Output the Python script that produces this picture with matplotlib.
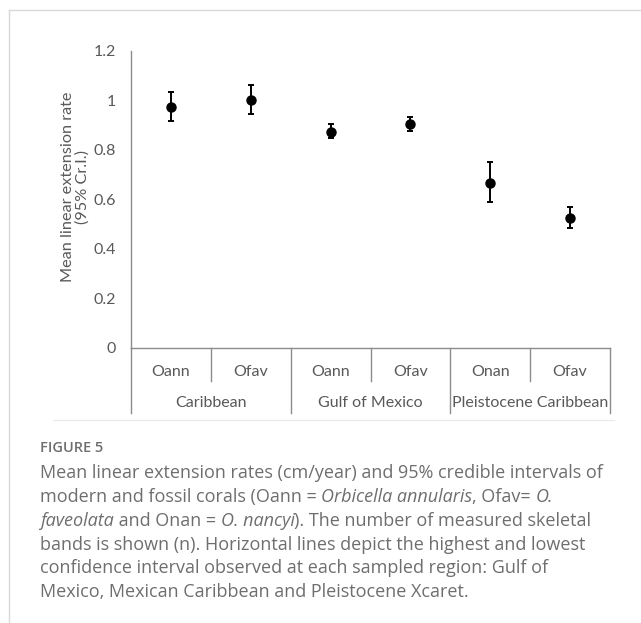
import matplotlib
matplotlib.use("Agg")
import matplotlib.pyplot as plt
from matplotlib.lines import Line2D
import numpy as np

species = ["Oann", "Ofav", "Oann", "Ofav", "Onan", "Ofav"]
regions = ["Caribbean", "Gulf of Mexico", "Pleistocene Caribbean"]
means = [0.972, 1.002, 0.873, 0.903, 0.665, 0.523]
upper = [1.034, 1.061, 0.904, 0.931, 0.748, 0.568]
lower = [0.915, 0.945, 0.846, 0.876, 0.589, 0.482]
yticks = [0, 0.2, 0.4, 0.6, 0.8, 1.0, 1.2]
ytick_labels = ["0", "0.2", "0.4", "0.6", "0.8", "1", "1.2"]

W, H = 641, 623
fig = plt.figure(figsize=(W / 100, H / 100), dpi=100)

def fx(px):
    return px / W

def fy(py):
    return 1 - py / H

ax = fig.add_axes([fx(131), fy(347.5), fx(610) - fx(131), fy(50.7) - fy(347.5)])
x = np.arange(len(means))
m = np.array(means)
yerr = np.array([m - np.array(lower), np.array(upper) - m])
ax.errorbar(x, m, yerr=yerr, fmt="o", color="black", ms=6.5, elinewidth=1.4,
            capsize=2.5, capthick=1.4)
ax.set_xlim(-0.5, len(means) - 0.5)
ax.set_ylim(0, 1.2)
ax.set_yticks(yticks)
ax.set_yticklabels(ytick_labels)
ax.set_xticks([])
axis_color = "#8c8c8c"
text_color = "#595959"
for s in ["top", "right"]:
    ax.spines[s].set_visible(False)
for s in ["left", "bottom"]:
    ax.spines[s].set_color(axis_color)
    ax.spines[s].set_linewidth(1.0)
ax.tick_params(axis="y", length=0, pad=11, labelsize=11.5, labelcolor=text_color)
for lab in ax.get_yticklabels():
    lab.set_family("Lato")
ax.set_ylabel("Mean linear extension rate\n(95% Cr.I.)", fontsize=11.7, color=text_color,
              family="Lato", labelpad=4, linespacing=1.0)
ax.yaxis.set_label_coords(-0.086, 0.54)

# Category axis (two-level)
tr = ax.get_xaxis_transform()
ax_h_px = 347.5 - 50.7
def ay(py):
    return (347.5 - py) / ax_h_px

for i, sp in enumerate(species):
    ax.text(i, ay(372), sp, transform=tr, ha="center", va="center", fontsize=11.5,
            color=text_color, family="Lato")
for i in range(len(species) + 1):
    xb = i - 0.5
    end = 413 if i % 2 == 0 else 381
    ax.add_line(Line2D([xb, xb], [0, ay(end)], transform=tr, color=axis_color, lw=1.0, clip_on=False))
for g, r in enumerate(regions):
    ax.text(2 * g + 0.5, ay(403), r, transform=tr, ha="center", va="center", fontsize=11.5,
            color=text_color, family="Lato")

# frame lines
border = "#d9d9d9"
fig.add_artist(Line2D([fx(9), 1], [fy(9.5), fy(9.5)], transform=fig.transFigure, color=border, lw=1.0))
fig.add_artist(Line2D([fx(9), fx(9)], [fy(9.5), 0], transform=fig.transFigure, color=border, lw=1.0))
fig.add_artist(Line2D([fx(53), fx(614)], [fy(419.5), fy(419.5)], transform=fig.transFigure,
                      color="#ebebeb", lw=1.0))

cap_color = "#6e6e6e"
fig.text(fx(40), fy(448), "FIGURE 5", fontsize=10.5, color=cap_color, family="Open Sans",
         weight="semibold", va="center", ha="left")

lines = [
    [("Mean linear extension rates (cm/year) and 95% credible intervals of", "normal")],
    [("modern and fossil corals (Oann = ", "normal"), ("Orbicella annularis", "italic"),
     (", Ofav= ", "normal"), ("O.", "italic")],
    [("faveolata", "italic"), (" and Onan = ", "normal"), ("O. nancyi", "italic"),
     ("). The number of measured skeletal", "normal")],
    [("bands is shown (n). Horizontal lines depict the highest and lowest", "normal")],
    [("confidence interval observed at each sampled region: Gulf of", "normal")],
    [("Mexico, Mexican Caribbean and Pleistocene Xcaret.", "normal")],
]
baselines = [478, 502, 526, 550, 573, 597]
renderer = fig.canvas.get_renderer()
for parts, yb in zip(lines, baselines):
    xpos = 40.0
    for txt, style in parts:
        t = fig.text(fx(xpos), fy(yb), txt, fontsize=13.0, color=cap_color, family="Open Sans",
                     style=style, va="baseline", ha="left")
        bb = t.get_window_extent(renderer=renderer)
        xpos += bb.width

fig.savefig("out.png", dpi=100)
